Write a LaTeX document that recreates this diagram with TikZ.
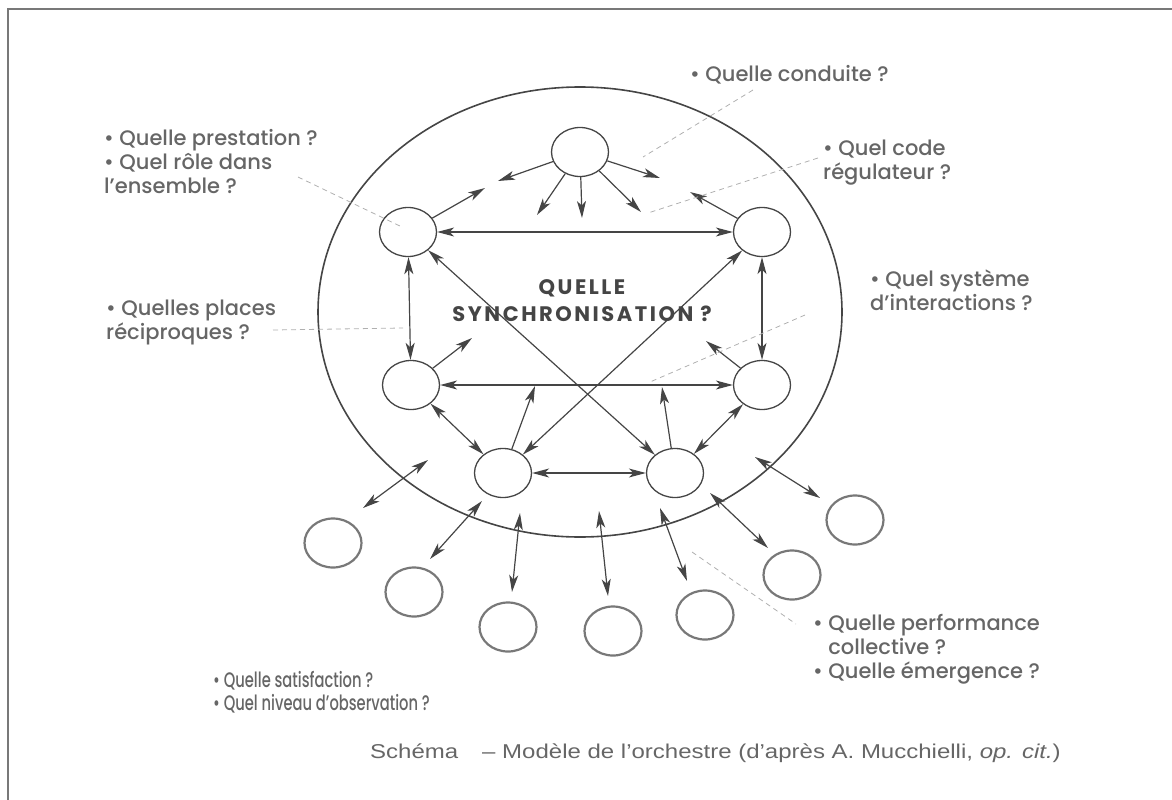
\documentclass[tikz,border=0pt]{standalone}
\usepackage{fontspec}
\setmainfont{Poppins}
\IfFontExistsTF{Poppins Medium}{\newfontfamily\qfont{Poppins Medium}[Ligatures=TeX]}{\newfontfamily\qfont{Poppins}[Ligatures=TeX]}
\newfontfamily\capfont{Liberation Sans}[Ligatures=TeX]
\usetikzlibrary{arrows.meta,shapes,positioning,calc}
\definecolor{linegray}{HTML}{454545}
\definecolor{outgray}{HTML}{787878}
\definecolor{textgray}{HTML}{666666}
\definecolor{leadgray}{HTML}{B0B0B0}
\tikzset{
  member/.style={ellipse, draw=linegray, line width=1.3pt, minimum width=57pt, minimum height=49pt, inner sep=0pt},
  visitor/.style={member, draw=outgray, line width=2.2pt},
  link/.style={draw=linegray, line width=1.2pt},
  leader/.style={draw=leadgray, line width=0.8pt, dash pattern=on 5pt off 4pt},
  question/.style={font=\qfont\fontsize{21}{24}\selectfont, text=textgray, align=left, anchor=north west, inner sep=0pt},
}

\begin{document}
\begin{tikzpicture}[x=1pt, y=-1pt, >={Stealth[length=17pt,width=9pt,inset=4.5pt]}]
    \useasboundingbox (0,0) rectangle (1172,800);
    \draw[outgray, line width=1.5pt] (8,800) -- (8,9) -- (1172,9);

    % the orchestra
    \draw[linegray, line width=1.6pt] (580,312) ellipse [x radius=262pt, y radius=225pt];

    \node[member] (top) at (580,152) {};
    \node[member] (ul) at (408,232) {};
    \node[member] (ur) at (762,232) {};
    \node[member] (ml) at (411,385) {};
    \node[member] (mr) at (762,385) {};
    \node[member] (bl) at (503,473) {};
    \node[member] (br) at (675,473) {};

    \node[visitor] (o1) at (333,543) {};
    \node[visitor] (o2) at (414,592) {};
    \node[visitor] (o3) at (508,627) {};
    \node[visitor] (o4) at (613,631) {};
    \node[visitor] (o5) at (705,615) {};
    \node[visitor] (o6) at (792,575) {};
    \node[visitor] (o7) at (855,520) {};

    \draw[link,<->] (ul) -- (ur);
    \draw[link,<->] (ml) -- (mr);
    \draw[link,<->] (bl) -- (br);
    \draw[link,<->] (ul) -- (ml);
    \draw[link,<->] (ur) -- (mr);
    \draw[link,<->] (ul) -- (br);
    \draw[link,<->] (ur) -- (bl);
    \draw[link,<->] (ml) -- (bl);
    \draw[link,<->] (mr) -- (br);

    \coordinate (ul-top) at (485,188);
    \coordinate (top-ul) at (498,181);
    \coordinate (top-ur) at (660,178);
    \coordinate (ur-top) at (690,192);
    \coordinate (top-d1) at (537,215);
    \coordinate (top-d2) at (582,218);
    \coordinate (top-d3) at (641,212);
    \coordinate (ml-up) at (472,338);
    \coordinate (mr-up) at (706,341);
    \coordinate (bl-up) at (535,386);
    \coordinate (br-up) at (662,387);

    \draw[link,->] (ul) -- (ul-top);
    \draw[link,->] (top) -- (top-ul);
    \draw[link,->] (top) -- (top-ur);
    \draw[link,->] (ur) -- (ur-top);
    \foreach \d in {d1,d2,d3}
        \draw[link,->] (top) -- (top-\d);
    \draw[link,->] (ml) -- (ml-up);
    \draw[link,->] (mr) -- (mr-up);
    \draw[link,->] (bl) -- (bl-up);
    \draw[link,->] (br) -- (br-up);

    % exchanges across the border
    \coordinate (a1) at (428,460); \coordinate (b1) at (363,508);
    \coordinate (a2) at (482,501); \coordinate (b2) at (430,559);
    \coordinate (a3) at (520,513); \coordinate (b3) at (512,592);
    \coordinate (a4) at (599,511); \coordinate (b4) at (608,596);
    \coordinate (a5) at (660,508); \coordinate (b5) at (687,581);
    \coordinate (a6) at (710,493); \coordinate (b6) at (768,548);
    \coordinate (a7) at (755,457); \coordinate (b7) at (820,498);
    \foreach \i in {1,...,7}
        \draw[link,<->] (a\i) -- (b\i);

    % questions
    \node[question] (conduite) at (690,65) {• Quelle conduite ?};
    \node[question] (code) at (823,140) {• Quel code\\régulateur ?};
    \node[question] (systeme) at (870,270) {• Quel système\\d'interactions ?};
    \node[question] (prestation) at (104,129) {• Quelle prestation ?\\• Quel rôle dans\\l'ensemble ?};
    \node[question] (places) at (106,300) {• Quelles places\\réciproques ?};
    \node[question] (performance) at (813,614) {• Quelle performance\\\hphantom{• }collective ?\\• Quelle émergence ?};
    \node[question, font=\qfont\fontsize{21}{23}\selectfont] (satisfaction) at (213,671)
        {\scalebox{0.7}[1]{• Quelle satisfaction ?}\\\scalebox{0.7}[1]{• Quel niveau d'observation ?}};
    \node[font=\bfseries\fontsize{21}{27}\selectfont\addfontfeature{LetterSpace=12}, text=linegray, align=center] (synchro) at (582,301) {QUELLE\\SYNCHRONISATION ?};

    \coordinate (conduite-a) at (753,90);   \coordinate (conduite-b) at (643,157);
    \coordinate (code-a) at (818,158);      \coordinate (code-b) at (648,213);
    \coordinate (prest-a) at (298,177);     \coordinate (prest-b) at (402,227);
    \coordinate (places-a) at (273,330);    \coordinate (places-b) at (403,328);
    \coordinate (systeme-a) at (805,315);   \coordinate (systeme-b) at (650,382);
    \coordinate (perf-a) at (692,552);      \coordinate (perf-b) at (796,624);
    \draw[leader] (conduite-a) -- (conduite-b);
    \draw[leader] (code-a) -- (code-b);
    \draw[leader] (prest-a) -- (prest-b);
    \draw[leader] (places-a) -- (places-b);
    \draw[leader] (systeme-a) -- (systeme-b);
    \draw[leader] (perf-a) -- (perf-b);

    \node[anchor=west, inner sep=0pt, text=textgray, font=\capfont\fontsize{20}{22}\selectfont] (caption) at (370,753)
        {\scalebox{1.2}[1]{Schéma\quad – Modèle de l'orchestre (d'après A. Mucchielli, \textit{op. cit.})}};
\end{tikzpicture}
\end{document}
